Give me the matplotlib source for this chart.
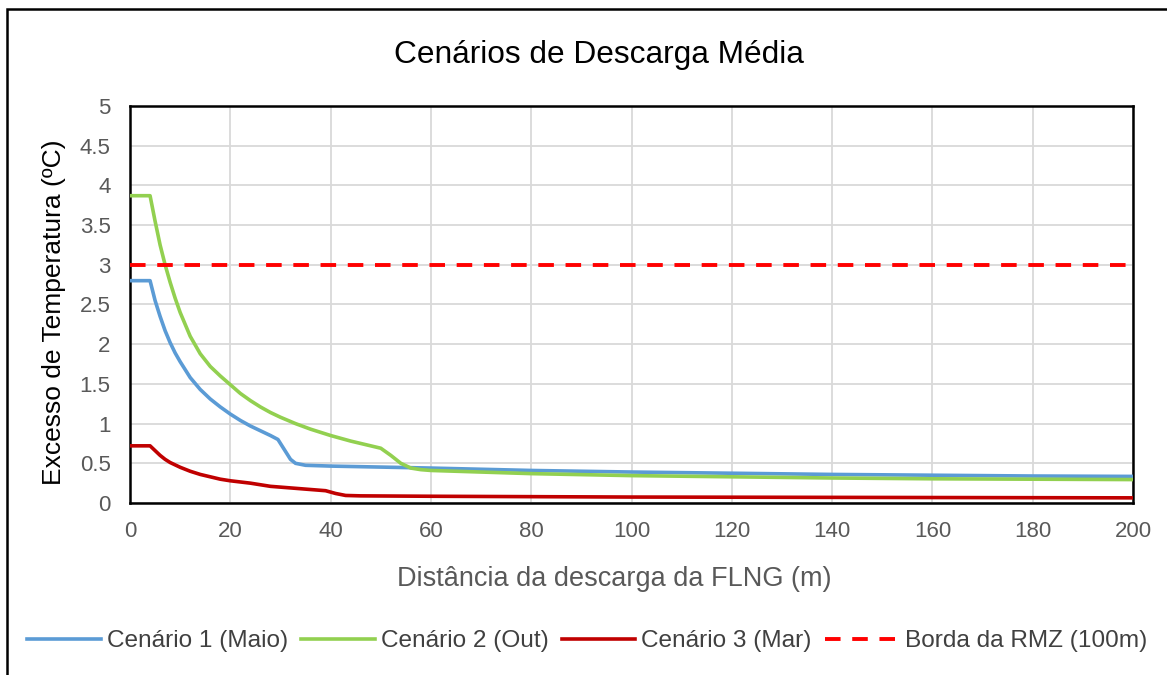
import matplotlib
matplotlib.use("Agg")
import matplotlib.pyplot as plt
from matplotlib.patches import Rectangle
from matplotlib.ticker import FuncFormatter, MultipleLocator

plt.rcParams["font.family"] = ["Liberation Sans", "DejaVu Sans"]

# distância (m) e excesso de temperatura (ºC) por cenário
dist_c1 = [0, 4, 5, 6, 7, 8, 9, 10, 12, 14, 16, 18, 20, 22, 24, 26, 28, 29.5,
           31, 32, 33, 35, 40, 60, 80, 100, 120, 140, 160, 180, 200]
temp_c1 = [2.80, 2.80, 2.55, 2.35, 2.17, 2.02, 1.89, 1.78, 1.58, 1.43, 1.31, 1.21,
           1.12, 1.04, 0.97, 0.91, 0.85, 0.80, 0.65, 0.55, 0.50, 0.475, 0.465,
           0.44, 0.41, 0.39, 0.375, 0.36, 0.35, 0.34, 0.335]

dist_c2 = [0, 4, 5, 6, 7, 8, 9, 10, 12, 14, 16, 18, 20, 22, 24, 26, 28, 30, 33,
           36, 40, 44, 48, 50, 52, 54, 56, 58, 60, 80, 100, 120, 140, 160, 180, 200]
temp_c2 = [3.87, 3.87, 3.55, 3.25, 3.00, 2.78, 2.58, 2.40, 2.10, 1.88, 1.72, 1.60,
           1.49, 1.38, 1.29, 1.21, 1.14, 1.08, 1.00, 0.93, 0.85, 0.78, 0.72, 0.69,
           0.60, 0.50, 0.44, 0.42, 0.41, 0.37, 0.345, 0.33, 0.315, 0.305, 0.30, 0.295]

dist_c3 = [0, 4, 5, 6, 7, 8, 9, 10, 12, 14, 16, 18, 20, 24, 28, 32, 36, 39, 41,
           43, 46, 60, 100, 150, 200]
temp_c3 = [0.72, 0.72, 0.66, 0.60, 0.55, 0.51, 0.48, 0.45, 0.40, 0.36, 0.33, 0.30,
           0.28, 0.25, 0.21, 0.19, 0.17, 0.155, 0.12, 0.095, 0.09, 0.085, 0.075,
           0.07, 0.065]

rmz_dist = [0, 200]
rmz_temp = [3, 3]

GRAY = "#595959"

fig = plt.figure(figsize=(11.67, 6.75), dpi=100)
ax = fig.add_axes([0.1114, 0.2548, 0.8595, 0.5882])

ax.plot(dist_c1, temp_c1, color="#5B9BD5", lw=2.6, label="Cenário 1 (Maio)", zorder=3)
ax.plot(dist_c2, temp_c2, color="#92D050", lw=2.6, label="Cenário 2 (Out)", zorder=3)
ax.plot(dist_c3, temp_c3, color="#C00000", lw=2.6, label="Cenário 3 (Mar)", zorder=3)
ax.plot(rmz_dist, rmz_temp, color="#FF0000", lw=2.8, ls=(0, (4, 3)),
        label="Borda da RMZ (100m)", zorder=3)

ax.set_xlim(0, 200)
ax.set_ylim(0, 5)
ax.xaxis.set_major_locator(MultipleLocator(20))
ax.yaxis.set_major_locator(MultipleLocator(0.5))
ax.yaxis.set_major_formatter(FuncFormatter(lambda v, p: f"{v:g}"))
ax.tick_params(length=0, labelsize=16, labelcolor=GRAY)
ax.tick_params(axis="y", pad=14)
ax.tick_params(axis="x", pad=13)
ax.grid(True, color="#D9D9D9", lw=1.3)
ax.set_axisbelow(True)
for s in ax.spines.values():
    s.set_color("black")
    s.set_linewidth(1.8)

fig.text(0.513, 0.918, "Cenários de Descarga Média", fontsize=22.8, color="black",
         ha="center", va="center")
ax.set_xlabel("Distância da descarga da FLNG (m)", fontsize=19.5, color=GRAY)
ax.set_ylabel("Excesso de Temperatura (ºC)", fontsize=19, color="black")
ax.xaxis.set_label_coords(0.4826, -0.191)
ax.yaxis.label.set_va("center")
ax.yaxis.set_label_coords(-0.0758, 0.481)
ax.xaxis.label.set_va("center")

fig.legend(loc="center", bbox_to_anchor=(0.503, 0.05), ncol=4, frameon=False,
           fontsize=17.6, handlelength=3.0, columnspacing=0.55, handletextpad=0.25,
           labelcolor="#404040")

# moldura externa do gráfico
fig.patches.append(Rectangle((0.006, -0.2), 1.3, 1.1867, transform=fig.transFigure,
                             fill=False, ec="black", lw=1.8))

fig.savefig("out.png", dpi=100)
